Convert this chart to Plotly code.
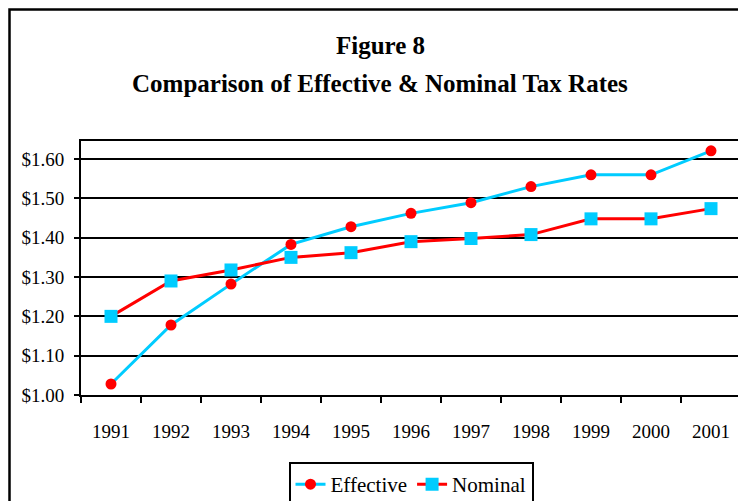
import plotly.graph_objects as go

years = ["1991", "1992", "1993", "1994", "1995", "1996", "1997", "1998", "1999", "2000", "2001"]
effective = [1.028, 1.178, 1.282, 1.383, 1.428, 1.462, 1.489, 1.530, 1.560, 1.560, 1.621]
nominal = [1.200, 1.290, 1.318, 1.350, 1.362, 1.390, 1.398, 1.408, 1.448, 1.448, 1.474]
y_ticks = [1.00, 1.10, 1.20, 1.30, 1.40, 1.50, 1.60]
y_labels = ["$1.00", "$1.10", "$1.20", "$1.30", "$1.40", "$1.50", "$1.60"]

serif = "Liberation Serif, Times New Roman, serif"
cyan = "#00CCFF"
red = "#FF0000"

fig = go.Figure()

# Effective: cyan line, red circles
fig.add_trace(go.Scatter(
    x=years, y=effective, name="Effective", mode="lines+markers",
    line=dict(color=cyan, width=3),
    marker=dict(symbol="circle", size=11, color=red),
))

# Nominal: red line, cyan squares
fig.add_trace(go.Scatter(
    x=years, y=nominal, name="Nominal", mode="lines+markers",
    line=dict(color=red, width=3),
    marker=dict(symbol="square", size=13, color=cyan),
))

fig.update_xaxes(
    type="category", range=[-0.5, len(years) - 0.5],
    showline=True, linecolor="black", linewidth=2, mirror=True,
    ticks="outside", tickson="boundaries", ticklen=6, tickwidth=2, tickcolor="black",
    showgrid=False, ticklabelstandoff=18,
    tickfont=dict(family=serif, size=19, color="black"),
)
fig.update_yaxes(
    range=[1.0, 1.646], tickvals=y_ticks, ticktext=y_labels,
    showline=True, linecolor="black", linewidth=2, mirror=True,
    ticks="outside", ticklen=5, tickwidth=2, tickcolor="black",
    showgrid=True, gridcolor="black", gridwidth=2, zeroline=False,
    ticklabelstandoff=6,
    tickfont=dict(family=serif, size=19, color="black"),
)

# plot area spans x 81..741, y 141..395 on the page
fig.add_annotation(text="<b>Figure 8</b>", xref="paper", yref="paper",
                   x=(380 - 81) / 660, y=(395 - 45) / 254, showarrow=False,
                   xanchor="center", yanchor="middle",
                   font=dict(family=serif, size=25, color="black"))
fig.add_annotation(text="<b>Comparison of Effective &amp; Nominal Tax Rates</b>",
                   xref="paper", yref="paper",
                   x=(380 - 81) / 660, y=(395 - 83) / 254, showarrow=False,
                   xanchor="center", yanchor="middle",
                   font=dict(family=serif, size=25, color="black"))

# outer chart frame
fig.add_shape(type="rect", xref="paper", yref="paper",
              x0=(9.5 - 81) / 660, x1=(770 - 81) / 660,
              y0=(395 - 520) / 254, y1=(395 - 9.5) / 254,
              line=dict(color="black", width=2.5), layer="below")

fig.update_layout(
    width=746, height=501,
    margin=dict(l=73, r=13, t=133, b=114, autoexpand=False),
    paper_bgcolor="white", plot_bgcolor="white",
    showlegend=True,
    legend=dict(orientation="h", x=(411 - 81) / 660, xanchor="center",
                y=(395 - 462) / 254, yanchor="top",
                bordercolor="black", borderwidth=2, bgcolor="white",
                font=dict(family=serif, size=21, color="black"),
                itemwidth=30, tracegroupgap=0),
)

fig.write_html("out.html")
